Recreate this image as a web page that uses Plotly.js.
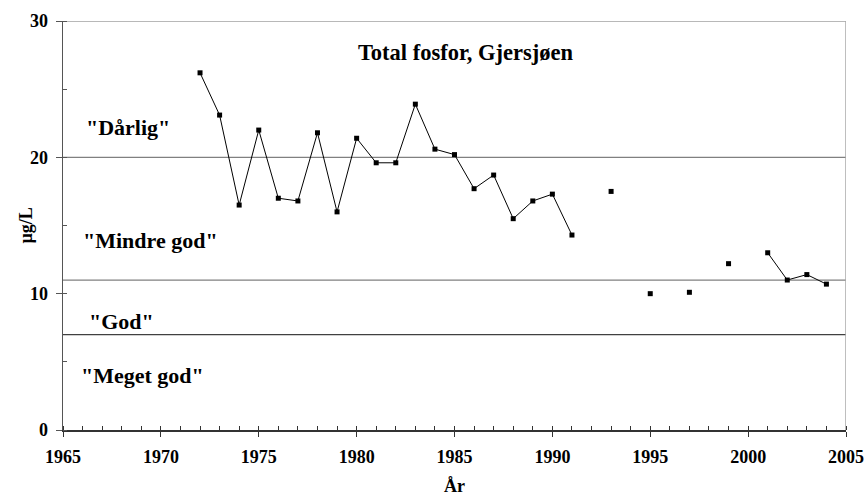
<!DOCTYPE html>
<html>
<head>
<meta charset="utf-8">
<script src="https://cdn.plot.ly/plotly-3.0.1.min.js"></script>
<style>html,body{margin:0;padding:0;background:#fff;}#chart{width:866px;height:496px;}</style>
</head>
<body>
<div id="chart"></div>
<script>
const years = [1972,1973,1974,1975,1976,1977,1978,1979,1980,1981,1982,1983,1984,1985,1986,1987,1988,1989,1990,1991,1992,1993,1994,1995,1996,1997,1998,1999,2000,2001,2002,2003,2004];
const fosfor = [26.2,23.1,16.5,22.0,17.0,16.8,21.8,16.0,21.4,19.6,19.6,23.9,20.6,20.2,17.7,18.7,15.5,16.8,17.3,14.3,null,17.5,null,10.0,null,10.1,null,12.2,null,13.0,11.0,11.4,10.7];
const thresholds = [20, 11, 7];
const thresholdColors = ['#808080', '#808080', '#404040'];
const classLabels = ['"Dårlig"', '"Mindre god"', '"God"', '"Meget god"'];
const classLabelX = [1968.3, 1969.45, 1968.0, 1969.05];
const classLabelY = [22.2, 13.9, 7.95, 4.0];
const xTickVals = [1965,1970,1975,1980,1985,1990,1995,2000,2005];
const yTickVals = [0,10,20,30];
const yTitle = 'µg/L';

const font = "'Liberation Serif', 'Times New Roman', serif";

const shapes = thresholds.map((t, i) => ({
  type: 'line', xref: 'paper', yref: 'y', x0: 0, x1: 1, y0: t, y1: t,
  line: {color: thresholdColors[i], width: 1.2}, layer: 'below'
}));
shapes.push({type:'line', xref:'paper', yref:'y', x0:0, x1:1, y0:30, y1:30, line:{color:'#a0a0a0', width:1.5}, layer:'below'});
shapes.push({type:'line', xref:'x', yref:'paper', x0:2005, x1:2005, y0:0, y1:1, line:{color:'#a8a8a8', width:1.5}, layer:'below'});

const annotations = classLabels.map((t, i) => ({
  text: t, x: classLabelX[i], y: classLabelY[i], xref: 'x', yref: 'y',
  showarrow: false, font: {family: font, size: 22, color: '#000', weight: 'bold'}, xanchor: 'center', yanchor: 'middle'
}));
annotations.push({
  text: yTitle, xref: 'paper', yref: 'paper', x: (25 - 63) / 783, y: 0.5, textangle: -90,
  showarrow: false, font: {family: font, size: 18, color: '#000', weight: 'bold'}, xanchor: 'center', yanchor: 'middle'
});

const trace = {
  x: years, y: fosfor, type: 'scatter', mode: 'lines+markers', connectgaps: false,
  line: {color: '#000', width: 1},
  marker: {symbol: 'square', size: 5, color: '#000'},
  hoverinfo: 'x+y'
};

const layout = {
  width: 866, height: 496,
  margin: {l: 63, r: 20, t: 21, b: 66},
  paper_bgcolor: '#fff', plot_bgcolor: '#fff',
  showlegend: false,
  font: {family: font, color: '#000', weight: 'bold'},
  title: {text: 'Total fosfor, Gjersjøen', font: {family: font, size: 22.5, color: '#000', weight: 'bold'},
          x: 465.5/866, xanchor: 'center', y: 1 - 52/496, yanchor: 'middle'},
  xaxis: {
    range: [1965, 2005], tickvals: xTickVals, ticktext: xTickVals.map(String),
    ticks: 'outside', ticklen: 5, tickwidth: 1, tickcolor: '#333',
    minor: {dtick: 1, tick0: 1965, ticks: 'inside', ticklen: 4, tickwidth: 1, tickcolor: '#333'},
    showline: true, linecolor: '#333', linewidth: 1.5, showgrid: false, zeroline: false,
    tickfont: {family: font, size: 18, color: '#000', weight: 'bold'},
    ticklabelstandoff: 5,
    title: {text: 'År', font: {family: font, size: 18, color: '#000', weight: 'bold'}, standoff: 16},
    fixedrange: true
  },
  xaxis2: {
    overlaying: 'x', anchor: 'y', side: 'bottom', range: [1965, 2005], tickvals: xTickVals,
    ticks: 'inside', ticklen: 3, tickwidth: 1, tickcolor: '#333', showticklabels: false,
    showline: false, showgrid: false, zeroline: false
  },
  yaxis: {
    range: [0, 30], tickvals: yTickVals, ticktext: yTickVals.map(String),
    ticks: 'outside', ticklen: 6, tickwidth: 1, tickcolor: '#555',
    minor: {dtick: 5, tick0: 0, ticks: 'inside', ticklen: 4, tickwidth: 1, tickcolor: '#555'},
    showline: true, linecolor: '#555', linewidth: 1.5, showgrid: false, zeroline: false,
    tickfont: {family: font, size: 18, color: '#000', weight: 'bold'},
    ticklabelstandoff: 4,
    fixedrange: true
  },
  shapes: shapes,
  annotations: annotations
};

Plotly.newPlot('chart', [trace], layout, {staticPlot: true, displayModeBar: false});
</script>
</body>
</html>
